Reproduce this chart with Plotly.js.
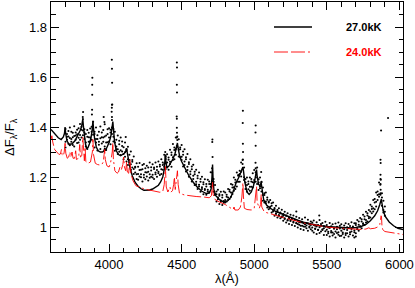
<!DOCTYPE html>
<html><head><meta charset="utf-8">
<script src="https://cdn.plot.ly/plotly-3.0.1.min.js"></script>
<style>html,body{margin:0;padding:0;background:#fff}#chart{width:415px;height:288px}</style>
</head><body><div id="chart"></div>
<script>
// Observed points (three exposures on a common wavelength grid)
const obsWave = [
3700,3710,3720,3730,3740,3750,3760,3770,3780,3790,
3800,3810,3820,3830,3840,3850,3860,3870,3880,3890,
3900,3910,3920,3930,3940,3950,3960,3970,3980,3990,
4000,4010,4020,4030,4040,4050,4060,4070,4080,4090,
4100,4110,4120,4130,4140,4150,4160,4170,4180,4190,
4200,4210,4220,4230,4240,4250,4260,4270,4280,4290,
4300,4310,4320,4330,4340,4350,4360,4370,4380,4390,
4400,4410,4420,4430,4440,4450,4460,4470,4480,4490,
4500,4510,4520,4530,4540,4550,4560,4570,4580,4590,
4600,4610,4620,4630,4640,4650,4660,4670,4680,4690,
4700,4710,4720,4730,4740,4750,4760,4770,4780,4790,
4800,4810,4820,4830,4840,4850,4860,4870,4880,4890,
4900,4910,4920,4930,4940,4950,4960,4970,4980,4990,
5000,5010,5020,5030,5040,5050,5060,5070,5080,5090,
5100,5110,5120,5130,5140,5150,5160,5170,5180,5190,
5200,5210,5220,5230,5240,5250,5260,5270,5280,5290,
5300,5310,5320,5330,5340,5350,5360,5370,5380,5390,
5400,5410,5420,5430,5440,5450,5460,5470,5480,5490,
5500,5510,5520,5530,5540,5550,5560,5570,5580,5590,
5600,5610,5620,5630,5640,5650,5660,5670,5680,5690,
5700,5710,5720,5730,5740,5750,5760,5770,5780,5790,
5800,5810,5820,5830,5840,5850,5860,5870,5880,5890,
5900];
const obsFluxA = [
1.392,1.361,1.384,1.398,1.352,1.377,1.403,1.366,1.389,1.395,
1.412,1.389,1.432,1.391,1.372,1.388,1.359,1.394,1.381,1.421,
1.372,1.398,1.352,1.381,1.402,1.359,1.388,1.411,1.366,1.391,
1.395,1.378,1.428,1.392,1.381,1.349,1.366,1.331,1.358,1.342,
1.319,1.338,1.311,1.321,1.289,1.302,1.268,1.282,1.241,1.255,
1.241,1.256,1.229,1.248,1.252,1.219,1.245,1.238,1.258,1.226,
1.251,1.232,1.258,1.241,1.262,1.249,1.271,1.258,1.289,1.284,
1.291,1.278,1.309,1.298,1.332,1.318,1.358,1.362,1.351,1.318,
1.328,1.302,1.311,1.279,1.292,1.259,1.271,1.242,1.249,1.221,
1.229,1.205,1.218,1.192,1.201,1.179,1.191,1.172,1.189,1.182,
1.219,1.235,1.192,1.168,1.142,1.149,1.131,1.141,1.128,1.142,
1.138,1.129,1.152,1.149,1.172,1.169,1.198,1.189,1.218,1.208,
1.225,1.258,1.268,1.238,1.192,1.198,1.182,1.198,1.192,1.215,
1.228,1.235,1.238,1.191,1.198,1.179,1.158,1.135,1.138,1.118,
1.102,1.108,1.095,1.098,1.076,1.085,1.068,1.075,1.055,1.069,
1.052,1.061,1.045,1.055,1.038,1.049,1.032,1.046,1.028,1.041,
1.025,1.036,1.019,1.031,1.015,1.038,1.016,1.029,1.011,1.022,
1.018,1.026,1.005,1.019,1.008,1.028,1.012,1.016,1.004,1.021,
1.008,0.998,1.016,1.003,1.011,0.996,1.014,1.001,1.018,1.005,
1.011,0.994,1.006,1.015,0.999,1.012,1.004,1.019,1.002,1.015,
1.015,1.028,1.022,1.036,1.031,1.049,1.042,1.061,1.055,1.068,
1.089,1.082,1.108,1.112,1.138,1.142,1.178,1.192,1.135,1.105,
1.082];
const obsFluxB = [
1.341,1.372,1.333,1.356,1.381,1.328,1.364,1.349,1.371,1.338,
1.368,1.401,1.386,1.352,1.338,1.361,1.377,1.342,1.401,1.369,
1.381,1.338,1.367,1.329,1.355,1.378,1.341,1.362,1.338,1.372,
1.342,1.389,1.398,1.361,1.338,1.322,1.311,1.345,1.307,1.324,
1.292,1.281,1.306,1.271,1.268,1.251,1.261,1.232,1.238,1.211,
1.212,1.228,1.199,1.231,1.209,1.235,1.202,1.221,1.211,1.239,
1.209,1.238,1.218,1.228,1.215,1.242,1.231,1.248,1.252,1.272,
1.258,1.269,1.261,1.288,1.279,1.308,1.312,1.348,1.309,1.311,
1.281,1.289,1.262,1.271,1.241,1.252,1.222,1.231,1.205,1.211,
1.181,1.195,1.169,1.181,1.159,1.171,1.152,1.162,1.149,1.172,
1.172,1.218,1.181,1.132,1.131,1.118,1.125,1.106,1.118,1.104,
1.108,1.121,1.118,1.142,1.138,1.158,1.159,1.178,1.181,1.205,
1.212,1.221,1.252,1.199,1.178,1.168,1.172,1.161,1.182,1.179,
1.188,1.219,1.198,1.178,1.162,1.181,1.128,1.128,1.102,1.109,
1.098,1.081,1.085,1.068,1.072,1.055,1.062,1.048,1.058,1.042,
1.045,1.032,1.046,1.028,1.035,1.024,1.034,1.018,1.029,1.015,
1.012,1.019,1.005,1.018,1.002,1.011,1.006,1.014,0.998,1.008,
0.998,1.008,0.992,1.002,0.989,0.999,1.006,0.988,0.995,1.001,
0.989,0.981,0.996,0.984,0.978,0.993,0.982,0.991,0.979,0.994,
0.985,0.978,0.991,0.975,0.988,0.996,0.979,0.992,0.998,0.986,
1.008,0.992,1.009,1.001,1.022,1.012,1.031,1.028,1.046,1.041,
1.062,1.072,1.075,1.098,1.101,1.128,1.131,1.172,1.118,1.068,
1.061];
const obsFluxC = [
1.318,1.349,1.362,1.327,1.341,1.359,1.322,1.378,1.336,1.357,
1.349,1.358,1.367,1.378,1.322,1.312,1.341,1.358,1.349,1.388,
1.318,1.352,1.306,1.341,1.312,1.334,1.358,1.322,1.308,1.339,
1.358,1.331,1.372,1.342,1.305,1.311,1.292,1.301,1.288,1.302,
1.271,1.299,1.262,1.248,1.258,1.229,1.238,1.212,1.218,1.192,
1.189,1.202,1.211,1.182,1.198,1.191,1.218,1.186,1.197,1.201,
1.198,1.192,1.211,1.201,1.221,1.208,1.212,1.229,1.241,1.232,
1.238,1.229,1.252,1.241,1.268,1.271,1.289,1.321,1.282,1.279,
1.268,1.242,1.248,1.222,1.228,1.201,1.211,1.182,1.192,1.168,
1.171,1.152,1.162,1.141,1.152,1.131,1.148,1.129,1.142,1.139,
1.161,1.182,1.141,1.128,1.102,1.111,1.092,1.101,1.088,1.097,
1.098,1.102,1.109,1.112,1.121,1.132,1.145,1.152,1.162,1.181,
1.181,1.202,1.231,1.188,1.152,1.142,1.151,1.145,1.161,1.158,
1.178,1.181,1.172,1.148,1.155,1.142,1.105,1.098,1.095,1.078,
1.071,1.075,1.058,1.062,1.045,1.052,1.038,1.045,1.035,1.039,
1.025,1.035,1.018,1.026,1.012,1.028,1.008,1.021,1.004,1.016,
0.998,1.009,0.992,1.005,0.988,1.001,0.995,0.985,1.002,0.991,
0.985,0.978,0.994,0.972,0.988,0.976,0.982,0.991,0.968,0.983,
0.968,0.975,0.962,0.978,0.966,0.972,0.958,0.976,0.969,0.964,
0.965,0.972,0.958,0.968,0.975,0.962,0.971,0.982,0.966,0.979,
0.975,0.991,0.985,1.003,0.995,1.015,1.008,1.018,1.022,1.035,
1.038,1.055,1.062,1.071,1.082,1.108,1.121,1.135,1.085,1.058,
1.045];
// Isolated points in line cores and outliers
const spikeWave = [3819,3821,3882,3883,3884,3884,3885,3963,3968,4018,4019,4020,4021,4020,4019,4020,4022,4115,4387,4389,
4467,4466,4468,4467,4467,4466,4468,4467,4468,4467,4712,4711,4713,4922,4923,4922,4921,4922,5009,5010,5009,5010,5048,5290,5448,
5870,5871,5869,5872,5870,5871,5870,5874,5922,5700,5690];
const spikeFlux = [1.440,1.460,1.450,1.469,1.529,1.569,1.597,1.440,1.420,1.461,1.477,1.489,1.577,1.633,1.669,1.440,1.490,1.360,1.300,1.280,
1.325,1.358,1.377,1.397,1.433,1.442,1.538,1.569,1.638,1.658,1.350,1.340,1.280,1.270,1.300,1.333,1.416,1.465,1.257,1.325,1.378,1.406,1.220,1.062,1.046,
1.129,1.149,1.169,1.189,1.209,1.256,1.269,1.386,1.436,0.962,0.958];
// Model 27.0 kK
const model27Wave = [3600,3625,3650,3670,3685,3693,3697,3701,3710,3725,3745,3765,3785,3800,3810,3816,3819,3823,3830,3838,3846,3855,3865,3875,3883,3887,3889,3892,3900,3912,3925,3940,3955,3965,3970,3975,3985,4000,4012,4020,4024,4026,4029,4038,4050,4065,4080,4095,4105,4115,4121,4126,4135,4145,4160,4180,4200,4220,4240,4260,4280,4300,4320,4340,4355,4370,4380,4386,4388,4391,4398,4410,4425,4440,4455,4465,4471,4476,4485,4500,4524,4550,4581,4610,4640,4670,4690,4703,4709,4713,4716,4722,4735,4760,4780,4800,4820,4840,4860,4875,4895,4910,4918,4922,4926,4935,4950,4965,4980,4995,5008,5013,5016,5020,5030,5040,5045,5048,5052,5065,5085,5110,5150,5180,5220,5260,5300,5340,5390,5440,5500,5560,5620,5660,5700,5740,5770,5800,5830,5850,5865,5873,5876,5880,5890,5905,5930,5960,5990,6025];
const model27Flux = [1.390,1.375,1.357,1.350,1.360,1.375,1.400,1.375,1.345,1.330,1.333,1.345,1.365,1.385,1.400,1.422,1.432,1.405,1.360,1.330,1.315,1.318,1.333,1.355,1.385,1.412,1.425,1.400,1.355,1.320,1.305,1.300,1.300,1.305,1.315,1.305,1.318,1.338,1.362,1.392,1.415,1.422,1.400,1.340,1.305,1.290,1.285,1.290,1.295,1.302,1.315,1.295,1.262,1.235,1.205,1.178,1.163,1.153,1.147,1.146,1.148,1.152,1.158,1.167,1.180,1.200,1.230,1.275,1.290,1.262,1.240,1.242,1.256,1.272,1.295,1.318,1.336,1.315,1.287,1.262,1.235,1.205,1.178,1.158,1.143,1.134,1.136,1.152,1.200,1.250,1.200,1.150,1.125,1.110,1.103,1.100,1.106,1.120,1.150,1.177,1.200,1.220,1.235,1.240,1.225,1.180,1.140,1.130,1.140,1.165,1.200,1.222,1.230,1.205,1.170,1.165,1.172,1.178,1.160,1.110,1.088,1.075,1.062,1.055,1.043,1.035,1.027,1.019,1.012,1.006,1.002,0.999,0.997,0.996,0.998,1.003,1.010,1.025,1.045,1.065,1.090,1.108,1.112,1.095,1.062,1.040,1.020,1.005,0.995,0.990];
// Model 24.0 kK
const model24Wave = [3600,3606,3612,3625,3640,3655,3665,3672,3676,3685,3691,3697,3702,3712,3722,3730,3736,3745,3752,3762,3770,3775,3790,3798,3803,3812,3819,3824,3830,3835,3840,3855,3865,3872,3885,3889,3893,3905,3920,3935,3950,3960,3966,3970,3974,3985,4000,4010,4022,4026,4030,4040,4055,4065,4075,4085,4095,4101,4106,4115,4121,4126,4135,4144,4150,4165,4185,4205,4230,4260,4290,4320,4350,4370,4380,4388,4394,4405,4415,4420,4426,4437,4445,4450,4456,4462,4468,4471,4476,4485,4520,4560,4600,4650,4690,4705,4710,4713,4717,4730,4760,4800,4840,4855,4861,4867,4890,4905,4915,4919,4922,4926,4932,4950,4980,5000,5010,5016,5020,5035,5044,5048,5052,5070,5100,5150,5200,5250,5300,5350,5400,5450,5500,5550,5600,5650,5700,5740,5770,5790,5800,5830,5850,5865,5870,5874,5877,5880,5885,5900,5950,6000,6025];
const model24Flux = [1.350,1.365,1.340,1.310,1.300,1.290,1.292,1.310,1.290,1.285,1.300,1.335,1.295,1.275,1.280,1.300,1.280,1.300,1.275,1.275,1.305,1.270,1.275,1.330,1.280,1.285,1.360,1.290,1.265,1.320,1.262,1.255,1.258,1.260,1.300,1.350,1.290,1.255,1.250,1.248,1.250,1.260,1.290,1.310,1.270,1.245,1.240,1.255,1.300,1.337,1.270,1.225,1.215,1.220,1.240,1.230,1.250,1.280,1.240,1.225,1.260,1.220,1.215,1.270,1.215,1.185,1.165,1.160,1.155,1.150,1.146,1.142,1.139,1.142,1.170,1.242,1.160,1.140,1.150,1.160,1.140,1.145,1.170,1.200,1.150,1.175,1.210,1.225,1.170,1.135,1.128,1.124,1.122,1.120,1.117,1.125,1.160,1.180,1.130,1.110,1.100,1.090,1.075,1.070,1.080,1.068,1.068,1.080,1.120,1.160,1.177,1.120,1.075,1.070,1.068,1.075,1.120,1.162,1.100,1.075,1.090,1.130,1.080,1.060,1.055,1.045,1.038,1.030,1.022,1.015,1.010,1.004,1.000,0.997,0.995,0.993,0.991,0.990,0.992,0.997,0.993,0.995,1.000,1.010,1.030,1.045,1.040,1.005,0.990,0.982,0.977,0.972,0.970];
const seriesNames = ["27.0kK","24.0kK"];
const xTicks = [4000,4500,5000,5500,6000];
const yTicks = [1,1.2,1.4,1.6,1.8];

const FONT = "Liberation Sans, Arial, sans-serif";
const traces = [
  {x: obsWave.concat(obsWave, obsWave, spikeWave), y: obsFluxA.concat(obsFluxB, obsFluxC, spikeFlux),
   mode:'markers', type:'scatter', marker:{size:2.1, color:'#000'}, hoverinfo:'skip'},
  {x: model27Wave, y: model27Flux, mode:'lines', type:'scatter', name: seriesNames[0],
   line:{color:'#000', width:1.4}},
  {x: model24Wave, y: model24Flux, mode:'lines', type:'scatter', name: seriesNames[1],
   line:{color:'#ff0000', width:0.9, dash:'14px,3px,14px,3px,2px,3px'}}
];
const axCommon = {
  ticks:'inside', ticklen:8, tickwidth:1, tickcolor:'#000',
  showline:true, linecolor:'#000', linewidth:1.3, mirror:'allticks',
  showgrid:false, zeroline:false, tickfont:{family:FONT, size:13, color:'#000'}
};
const layout = {
  width:415, height:288, margin:{l:51, r:12, t:2, b:36},
  paper_bgcolor:'#fff', plot_bgcolor:'#fff', showlegend:false,
  font:{family:FONT, color:'#000'},
  xaxis: Object.assign({}, axCommon, {range:[3600,6025], tickmode:'array', tickvals:xTicks,
    minor:{tickmode:'linear', tick0:3600, dtick:100, ticks:'inside', ticklen:4.5, tickwidth:1, tickcolor:'#000'}}),
  yaxis: Object.assign({}, axCommon, {range:[0.9,1.9], tickmode:'array', tickvals:yTicks,
    minor:{tickmode:'linear', tick0:0.9, dtick:0.05, ticks:'inside', ticklen:4.5, tickwidth:1, tickcolor:'#000'}}),
  shapes:[
    {type:'line', xref:'paper', yref:'paper', x0:0.6335, x1:0.7415, y0:0.9, y1:0.9, line:{color:'#000', width:1.4}},
    {type:'line', xref:'paper', yref:'paper', x0:0.6335, x1:0.7415, y0:0.8, y1:0.8, line:{color:'#ff0000', width:0.9, dash:'14px,3px,14px,3px,2px,3px'}}
  ],
  annotations:[
    {xref:'paper', yref:'paper', x:0.832, y:0.9, xanchor:'left', yanchor:'middle', showarrow:false,
     text:'<b>'+seriesNames[0]+'</b>', font:{family:FONT, size:11, color:'#000'}},
    {xref:'paper', yref:'paper', x:0.832, y:0.8, xanchor:'left', yanchor:'middle', showarrow:false,
     text:'<b>'+seriesNames[1]+'</b>', font:{family:FONT, size:11, color:'#ff0000'}},
    {xref:'paper', yref:'paper', x:-0.1165, y:0.46, xanchor:'center', yanchor:'middle', showarrow:false, textangle:-90,
     text:'ΔF<sub>λ</sub>/F<sub>λ</sub>', font:{family:FONT, size:13, color:'#000'}},
    {xref:'paper', yref:'paper', x:0.5, y:-0.104, xanchor:'center', yanchor:'middle', showarrow:false,
     text:'λ(Å)', font:{family:FONT, size:13, color:'#000'}}
  ]
};
Plotly.newPlot('chart', traces, layout, {displayModeBar:false, staticPlot:true});
</script></body></html>
